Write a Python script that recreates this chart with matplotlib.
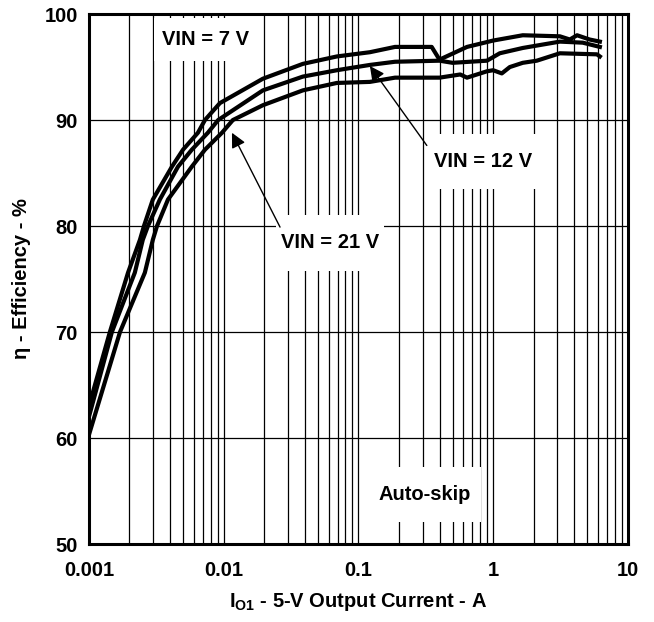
import matplotlib
matplotlib.use("Agg")
import matplotlib.pyplot as plt
from matplotlib.ticker import LogLocator, NullFormatter

plt.rcParams['font.family'] = ['Liberation Sans', 'DejaVu Sans']
plt.rcParams['font.weight'] = 'bold'
plt.rcParams['mathtext.fontset'] = 'custom'
plt.rcParams['mathtext.bf'] = 'Liberation Sans:bold'
plt.rcParams['mathtext.rm'] = 'Liberation Sans:bold'

# Output current (A) and efficiency (%) for each input voltage
x_7v = [0.001, 0.00143, 0.00195, 0.00239, 0.00256, 0.00298, 0.00413, 0.00499, 0.00644,
        0.00726, 0.00938, 0.01955, 0.0387, 0.0692, 0.1217, 0.187, 0.35, 0.40, 0.45,
        0.64, 1.0, 1.66, 3.13, 3.71, 4.2, 5.2, 6.2]
y_7v = [63.0, 70.0, 75.6, 78.7, 80.0, 82.5, 85.6, 87.2, 88.8,
        90.0, 91.6, 93.9, 95.3, 96.0, 96.4, 96.9, 96.9, 95.7, 96.0,
        96.9, 97.5, 98.0, 97.9, 97.6, 98.0, 97.6, 97.4]

x_12v = [0.001, 0.00148, 0.00219, 0.00251, 0.00274, 0.00336, 0.00458, 0.0058, 0.00763,
         0.0091, 0.01955, 0.0387, 0.0692, 0.0865, 0.1217, 0.187, 0.40, 0.50, 0.90,
         1.12, 1.66, 3.13, 4.63, 6.2]
y_12v = [62.0, 70.0, 75.6, 78.7, 80.0, 82.5, 85.6, 87.2, 88.8,
         90.0, 92.8, 94.1, 94.7, 94.9, 95.2, 95.5, 95.6, 95.4, 95.6,
         96.3, 96.8, 97.4, 97.3, 96.9]

x_21v = [0.001, 0.0017, 0.0026, 0.00298, 0.0032, 0.00386, 0.0058, 0.00726, 0.00971,
         0.0117, 0.01955, 0.0387, 0.0692, 0.1217, 0.187, 0.40, 0.57, 0.64, 0.90,
         1.0, 1.16, 1.33, 1.66, 2.11, 3.13, 5.9, 6.2]
y_21v = [60.3, 70.0, 75.6, 78.7, 80.0, 82.5, 85.6, 87.2, 88.8,
         90.0, 91.4, 92.8, 93.5, 93.6, 94.0, 94.0, 94.3, 94.0, 94.6,
         94.7, 94.4, 95.0, 95.4, 95.6, 96.3, 96.2, 96.0]

x_ticks = [0.001, 0.01, 0.1, 1, 10]
x_tick_labels = ["0.001", "0.01", "0.1", "1", "10"]
y_ticks = [50, 60, 70, 80, 90, 100]

FS = 14.5

fig = plt.figure(figsize=(6.54, 6.22), dpi=100)
ax = fig.add_axes([0.136, 0.1254, 0.824, 0.852])

ax.set_xscale('log')
ax.set_xlim(0.001, 10)
ax.set_ylim(50, 100)

for xs, ys in [(x_7v, y_7v), (x_12v, y_12v), (x_21v, y_21v)]:
    ax.plot(xs, ys, color='black', lw=3.0, zorder=3, solid_joinstyle='round')

ax.set_xticks(x_ticks)
ax.set_xticklabels(x_tick_labels)
ax.xaxis.set_minor_locator(LogLocator(base=10, subs=range(2, 10)))
ax.xaxis.set_minor_formatter(NullFormatter())
ax.set_yticks(y_ticks)
ax.tick_params(axis='x', which='both', length=0, labelsize=FS, pad=12)
ax.tick_params(axis='y', which='both', length=0, labelsize=FS, pad=8)
for lab in ax.get_xticklabels() + ax.get_yticklabels():
    lab.set_fontweight('bold')

ax.grid(True, which='major', axis='both', color='black', lw=0.9, zorder=1)
ax.grid(True, which='minor', axis='x', color='black', lw=0.9, zorder=1)
ax.set_axisbelow(True)
for sp in ax.spines.values():
    sp.set_linewidth(2.2)

ax.set_xlabel(r"I$_{\mathbf{O1}}$ - 5-V Output Current - A", fontsize=FS, fontweight='bold', labelpad=8)
ax.set_ylabel("η - Efficiency - %", fontsize=FS, fontweight='bold', labelpad=10)

def box(px, py):
    return dict(boxstyle='square,pad=%g' % px, fc='white', ec='none', mutation_aspect=py / px)

ax.text(0.00738, 97.6, "VIN = 7 V", ha='center', va='center', fontsize=FS,
        fontweight='bold', bbox=box(0.4, 0.6), zorder=4)
ax.text(0.312, 54.7, "Auto-skip", ha='center', va='center', fontsize=FS,
        fontweight='bold', bbox=box(0.5, 0.9), zorder=4)

arrow = dict(arrowstyle='-|>', color='black', lw=1.0, mutation_scale=22, shrinkA=0, shrinkB=0)
ax.annotate("", xy=(0.1217, 95.1), xytext=(0.322, 87.6), arrowprops=arrow, zorder=5)
ax.annotate("", xy=(0.01152, 88.8), xytext=(0.0262, 79.9), arrowprops=arrow, zorder=5)
ax.text(0.839, 86.1, "VIN = 12 V", ha='center', va='center', fontsize=FS,
        fontweight='bold', bbox=box(0.25, 0.9), zorder=4)
ax.text(0.0614, 78.4, "VIN = 21 V", ha='center', va='center', fontsize=FS,
        fontweight='bold', bbox=box(0.25, 0.9), zorder=4)

fig.savefig("out.png", dpi=100)
